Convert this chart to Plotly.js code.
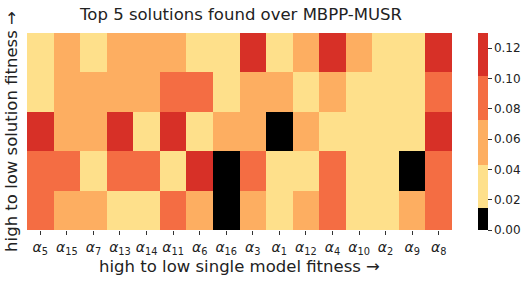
<!DOCTYPE html>
<html><head><meta charset="utf-8">
<script src="https://cdn.plot.ly/plotly-3.0.1.min.js"></script>
<style>html,body{margin:0;padding:0;background:#fff}</style>
</head><body><div id="chart" style="width:532px;height:287px"></div>
<script>
const colLabels = ["5","15","7","13","14","11","6","16","3","1","12","4","10","2","9","8"];
const rowLabels = ["1","2","3","4","5"];
const row1 = [0.03,0.06,0.03,0.06,0.06,0.06,0.03,0.03,0.12,0.03,0.06,0.12,0.06,0.03,0.03,0.12];
const row2 = [0.03,0.06,0.06,0.06,0.06,0.09,0.09,0.03,0.06,0.06,0.03,0.06,0.03,0.03,0.03,0.09];
const row3 = [0.12,0.06,0.06,0.12,0.03,0.12,0.03,0.06,0.06,0.00,0.06,0.03,0.03,0.03,0.03,0.12];
const row4 = [0.09,0.09,0.03,0.09,0.09,0.03,0.12,0.00,0.09,0.03,0.03,0.09,0.03,0.03,0.00,0.09];
const row5 = [0.09,0.06,0.06,0.03,0.03,0.09,0.06,0.00,0.06,0.03,0.06,0.09,0.03,0.03,0.06,0.09];
const colorbarTicks = [0.00,0.02,0.04,0.06,0.08,0.10,0.12];

const zmax = 0.13;
const b = [0, 0.0148/zmax, 0.043/zmax, 0.0724/zmax, 0.1018/zmax, 1];
const cols = ["#000000","#FEE08B","#FDAE61","#F46D43","#D73027"];
const cs = [];
for (let i=0;i<5;i++){ cs.push([b[i],cols[i]]); cs.push([b[i+1],cols[i]]); }

const xt = colLabels.map(c => "<i>α</i><sub>"+c+"</sub>");
const trace = {
  type:"heatmap",
  z:[row1,row2,row3,row4,row5],
  x:xt, y:rowLabels,
  zmin:0, zmax:zmax,
  colorscale:cs,
  colorbar:{
    x:1.0612, xanchor:"left", xpad:0, y:0, yanchor:"bottom", ypad:0, len:1, lenmode:"fraction",
    thickness:10, outlinewidth:0,
    tickvals:colorbarTicks, ticktext:colorbarTicks.map(v=>v.toFixed(2)),
    ticks:"outside", ticklen:4, tickwidth:1, tickcolor:"#333",
    tickfont:{family:"DejaVu Sans", size:12, color:"#222"}
  },
  hoverinfo:"skip"
};
const layout = {
  width:532, height:287,
  margin:{l:27, r:80, t:33, b:57, autoexpand:false},
  paper_bgcolor:"#fff", plot_bgcolor:"#fff",
  font:{family:"DejaVu Sans", color:"#222"},
  title:{text:"Top 5 solutions found over MBPP-MUSR", x:241/532, xanchor:"center", y:1-14.5/287, yanchor:"middle",
         font:{family:"DejaVu Sans", size:16.5, color:"#222"}},
  xaxis:{type:"category", ticks:"outside", ticklen:4, tickcolor:"#333", showgrid:false, zeroline:false,
         tickfont:{family:"DejaVu Sans", size:14, color:"#222"},
         title:{text:"high to low single model fitness →", standoff:4, font:{family:"DejaVu Sans", size:16.5, color:"#222"}}},
  yaxis:{type:"category", autorange:"reversed", showticklabels:false, ticks:"", showgrid:false, zeroline:false,
         title:{text:"high to low solution fitness →", standoff:4, font:{family:"DejaVu Sans", size:16.5, color:"#222"}}}
};
Plotly.newPlot("chart",[trace],layout,{displayModeBar:false, staticPlot:true});
</script></body></html>
